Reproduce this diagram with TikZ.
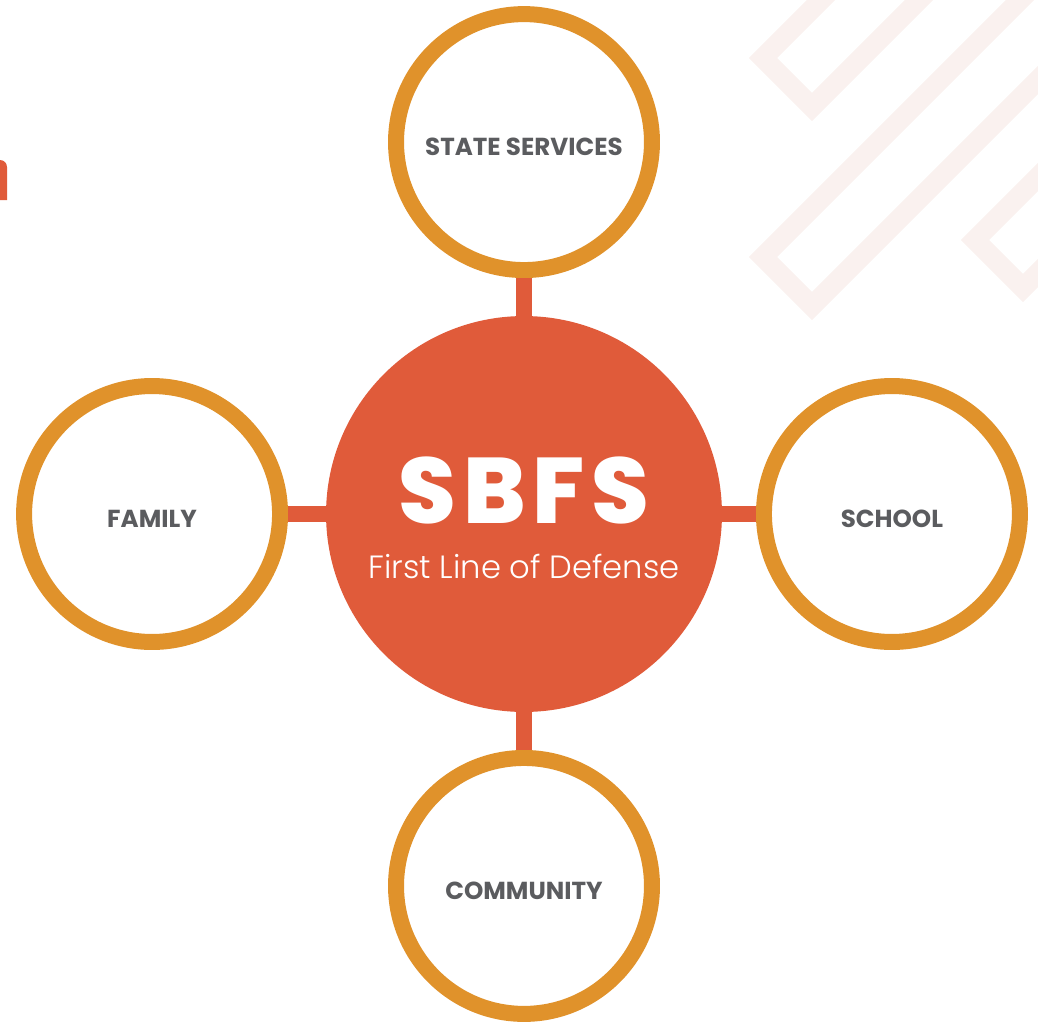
\documentclass[tikz,border=0pt]{standalone}
\usepackage{fontspec}
\setmainfont{Poppins}
\newfontfamily\poplight{Poppins Light}
\newfontfamily\popheavy{Poppins ExtraBold}[LetterSpace=7.5]
\definecolor{hubRed}{HTML}{E05B3A}
\definecolor{ringOrange}{HTML}{E0922B}
\definecolor{labelGray}{HTML}{5B5C5F}
\definecolor{decoPink}{HTML}{FAF1EF}

\begin{document}
\begin{tikzpicture}[x=0.02cm, y=-0.02cm, node distance=7.44cm]
	\tikzstyle{hub} = [circle, fill=hubRed, minimum size=7.92cm, inner sep=0pt, text=white, align=center, font=\fontsize{18.3}{31}\selectfont]
	\tikzstyle{partner} = [circle, draw=ringOrange, line width=0.32cm, fill=white, minimum size=5.12cm, inner sep=0pt, text=labelGray, text height=15pt, text depth=0pt, font=\bfseries\fontsize{14}{16}\selectfont]
	\tikzstyle{link} = [hubRed, line width=0.32cm]
	\tikzstyle{deco} = [decoPink, line width=0.4cm, miter limit=10]
	\useasboundingbox (0,0) rectangle (1038,1025);
	% background marks
	\begin{scope}
		\clip (0,0) rectangle (1038,1025);
		\draw [deco] (831,-10) -- (763,58) -- (812,107) -- (929,-10);
		\draw [deco] (1030,-10) -- (763,257) -- (812,306) -- (1058,60);
		\draw [deco] (1058,157) -- (975,240) -- (1023,288) -- (1058,253);
		\fill [hubRed] (-5,200) -- (7,200) [rounded corners=0.14cm] -- (7,160) [sharp corners] -- (-5,160) -- cycle;
	\end{scope}
	\node (sbfs) [hub] at (524,514) {\rule{0pt}{42pt}{\popheavy\fontsize{53}{31}\selectfont SBFS}\\{\poplight First Line of Defense}};
	\node (stateServices) [partner, above of=sbfs] {STATE SERVICES};
	\node (family) [partner, left of=sbfs] {FAMILY};
	\node (school) [partner, right of=sbfs, xshift=-0.08cm] {SCHOOL};
	\node (community) [partner, below of=sbfs] {COMMUNITY};
	\draw [link] (stateServices) -- (sbfs);
	\draw [link] (family) -- (sbfs);
	\draw [link] (school) -- (sbfs);
	\draw [link] (community) -- (sbfs);
\end{tikzpicture}
\end{document}
